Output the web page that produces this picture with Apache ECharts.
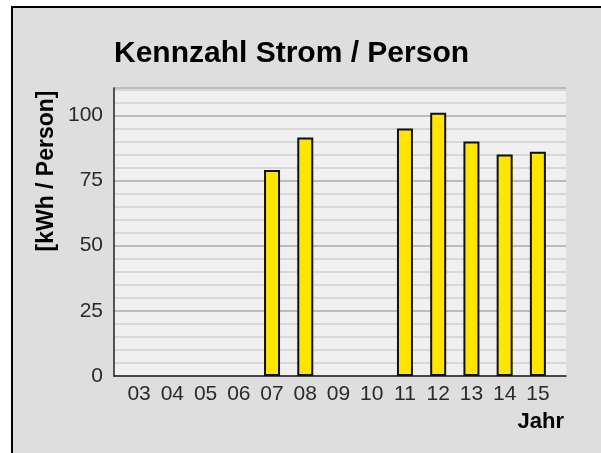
<!DOCTYPE html>
<html>
<head>
<meta charset="utf-8">
<script src="https://cdn.jsdelivr.net/npm/echarts@6/dist/echarts.min.js"></script>
<style>
html,body{margin:0;padding:0;background:#fff;}
#chart{width:601px;height:453px;}
</style>
</head>
<body>
<div id="chart"></div>
<script>
const years = ['03','04','05','06','07','08','09','10','11','12','13','14','15'];
const values = [null, null, null, null, 79, 91.5, null, null, 95, 101, 90, 85, 86];
const yTicks = [0, 25, 50, 75, 100];
const titleText = 'Kennzahl Strom / Person';
const yName = '[kWh / Person]';
const xName = 'Jahr';

const FONT = 'Liberation Sans, Arial, sans-serif';
const chart = echarts.init(document.getElementById('chart'), null, {renderer: 'canvas'});
const yMax = 110.5;
chart.setOption({
  animation: false,
  backgroundColor: '#ffffff',
  title: {
    text: titleText,
    left: 114,
    top: 39,
    padding: 0,
    textStyle: {fontFamily: FONT, fontWeight: 'bold', fontSize: 30, color: '#000'}
  },
  graphic: [
    {type: 'rect', z: -10, shape: {x: 12, y: 7, width: 700, height: 600},
     style: {fill: '#dedede', stroke: '#000', lineWidth: 2}},
    {type: 'text', x: 47, y: 171, rotation: Math.PI / 2, z: 10,
     style: {text: yName, fontFamily: FONT, fontWeight: 'bold', fontSize: 23,
             fill: '#000', align: 'center', verticalAlign: 'middle'}},
    {type: 'text', x: 564, y: 422, z: 10,
     style: {text: xName, fontFamily: FONT, fontWeight: 'bold', fontSize: 22,
             fill: '#000', align: 'right', verticalAlign: 'middle'}}
  ],
  grid: [
    {left: 114, right: 35, top: 88, bottom: 77, show: true,
     backgroundColor: '#f0f0f0', borderWidth: 0},
    {left: 122.5, right: 46.5, top: 88, bottom: 77}
  ],
  xAxis: [
    {type: 'value', gridIndex: 0, min: 0, max: 1,
     axisLine: {show: true, onZero: false, lineStyle: {color: '#222', width: 1.5}},
     axisTick: {show: false}, axisLabel: {show: false}, splitLine: {show: false}},
    {type: 'category', gridIndex: 1, data: years,
     axisLine: {show: false}, axisTick: {show: false},
     axisLabel: {fontFamily: FONT, fontSize: 21, color: '#2a2a2a', margin: 8}}
  ],
  yAxis: [
    {type: 'value', gridIndex: 0, min: 0, max: yMax, interval: 25,
     axisLine: {show: true, lineStyle: {color: '#222', width: 1.5}},
     axisTick: {show: false},
     axisLabel: {fontFamily: FONT, fontSize: 21, color: '#2a2a2a', margin: 11,
       formatter: v => (yTicks.indexOf(v) >= 0 ? String(v) : '')},
     splitLine: {show: true, lineStyle: {color: '#bcbcbc', width: 2}},
     minorTick: {show: false, splitNumber: 5},
     minorSplitLine: {show: true, lineStyle: {color: '#d8d8d8', width: 2}}},
    {type: 'value', gridIndex: 1, min: 0, max: yMax, show: false,
     splitLine: {show: false}}
  ],
  series: [{
    type: 'bar', xAxisIndex: 1, yAxisIndex: 1, data: values,
    barWidth: 16,
    itemStyle: {color: '#ffe500', borderColor: '#111', borderWidth: 2}
  }]
});
</script>
</body>
</html>
